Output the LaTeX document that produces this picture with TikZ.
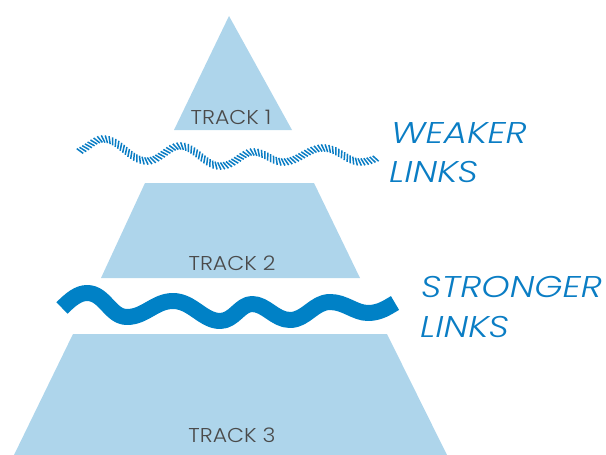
\documentclass[tikz,border=0pt]{standalone}
\usepackage{fontspec}
\newfontfamily\tracklabelfont{Poppins Light}[FakeStretch=1.1]
\newfontfamily\linkfont{Poppins Light Italic}[FakeStretch=1.2]
\usetikzlibrary{decorations.markings}

\definecolor{tierfill}{HTML}{AED5EB}
\definecolor{tiertext}{HTML}{4A4A4A}
\definecolor{linkblue}{HTML}{0A7DC4}
\definecolor{wavedark}{HTML}{0081C6}

\tikzset{
  tier/.style={fill=tierfill, draw=none},
  tierlabel/.style={font=\tracklabelfont\fontsize{20}{24}\selectfont, text=tiertext, anchor=base, inner sep=0pt},
  linklabel/.style={font=\linkfont\fontsize{30}{36}\selectfont, text=linkblue, anchor=base west, inner sep=0pt},
  strongwave/.style={draw=wavedark, line width=16pt, line join=round},
  ropestrand/.style={draw=linkblue, line width=1.5pt},
  rope/.style={decorate, decoration={markings,
      mark=between positions 0 and 1 step 3.3pt with {\draw[ropestrand] (-1.8pt,3.6pt) -- (1.8pt,-3.6pt);}}}
}

\begin{document}
\begin{tikzpicture}[x=1pt, y=1pt]
  \useasboundingbox (0,0) rectangle (606,-455);

  % pyramid tiers
  \path[tier] (229,-16) -- (292,-130) -- (174,-130) -- cycle;
  \path[tier] (145,-183) -- (314,-183) -- (360,-278) -- (101,-278) -- cycle;
  \path[tier] (73,-334) -- (387,-334) -- (447,-455) -- (14,-455) -- cycle;

  \node[tierlabel] (t1) at (231,-124) {TRACK 1};
  \node[tierlabel] (t2) at (232,-270) {TRACK 2};
  \node[tierlabel] (t3) at (232,-442) {TRACK 3};

  % weaker links: a thin twisted rope
  \path[rope] (80,-151) .. controls (90,-146) and (95,-139) .. (103,-139)
    .. controls (120,-139) and (130,-161) .. (147,-161)
    .. controls (160,-161) and (168,-146) .. (180,-146)
    .. controls (195,-146) and (205,-166) .. (220,-166)
    .. controls (235,-166) and (242,-152) .. (253,-152)
    .. controls (265,-152) and (272,-162) .. (283,-162)
    .. controls (298,-162) and (308,-148) .. (323,-148)
    .. controls (338,-148) and (348,-162) .. (360,-162)
    .. controls (367,-162) and (372,-160) .. (377,-158);

  % stronger links: a thick band
  \draw[strongwave] (62,-308) .. controls (70,-300) and (78,-293) .. (87,-293)
    .. controls (105,-293) and (110,-317) .. (127,-317)
    .. controls (145,-317) and (155,-301) .. (173,-301)
    .. controls (192,-301) and (203,-321) .. (220,-321)
    .. controls (234,-321) and (240,-304) .. (252,-304)
    .. controls (266,-304) and (275,-320) .. (290,-320)
    .. controls (306,-320) and (314,-302) .. (330,-302)
    .. controls (345,-302) and (355,-313) .. (368,-313)
    .. controls (380,-313) and (388,-307) .. (395,-303);

  \node[linklabel] (weak1) at (391,-143) {WEAKER};
  \node[linklabel] (weak2) at (389,-182) {LINKS};
  \node[linklabel] (strong1) at (421,-297) {STRONGER};
  \node[linklabel] (strong2) at (420,-337) {LINKS};
\end{tikzpicture}
\end{document}
